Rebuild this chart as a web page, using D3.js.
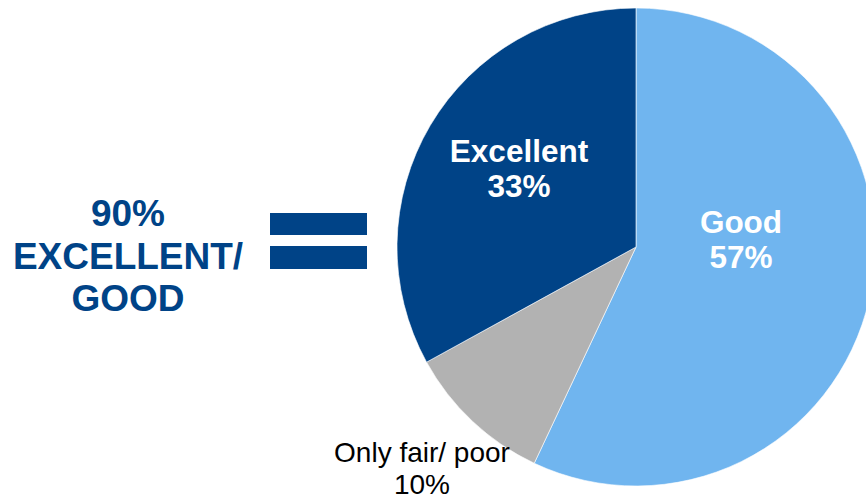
<!DOCTYPE html>
<html>
<head>
<meta charset="utf-8">
<script src="https://cdn.jsdelivr.net/npm/d3@7"></script>
<style>
  html, body { margin: 0; padding: 0; background: #fff; overflow: hidden; }
  svg { display: block; }
</style>
</head>
<body>
<svg id="chart" width="866" height="498"></svg>
<script>
// Data
const categories = ["Good", "Only fair/ poor", "Excellent"];
const values = [57, 10, 33];
const valueLabels = ["57%", "10%", "33%"];
const summaryLines = ["90%", "EXCELLENT/", "GOOD"];

const colors = ["#70B5EF", "#B2B2B2", "#004387"];
const darkBlue = "#004387";

const svg = d3.select("#chart");
const cx = 636, cy = 247, R = 239;

const pie = d3.pie().sort(null).value(d => d.value);
const data = categories.map((c, i) => ({ name: c, value: values[i], label: valueLabels[i], color: colors[i] }));
const arcs = pie(data);
const arc = d3.arc().innerRadius(0).outerRadius(R);

const g = svg.append("g").attr("transform", `translate(${cx},${cy})`);
g.selectAll("path.slice")
  .data(arcs)
  .enter().append("path")
  .attr("class", "slice")
  .attr("d", arc)
  .attr("fill", d => d.data.color)
  .attr("stroke", "#ffffff")
  .attr("stroke-width", 0.6);

const font = "'Liberation Sans', Arial, Helvetica, sans-serif";

// Inside labels, placed relative to the pie centre
function insideLabel(d, x, y) {
  const t = g.append("text")
    .attr("text-anchor", "middle")
    .attr("font-family", font)
    .attr("font-weight", "bold")
    .attr("font-size", 31.5)
    .attr("fill", "#ffffff");
  t.append("tspan").attr("x", x).attr("y", y).text(d.data.name);
  t.append("tspan").attr("x", x).attr("y", y + 34.5).text(d.data.label);
}
insideLabel(arcs[0], 105, -14);
insideLabel(arcs[2], -117, -85);

// Outside label for Only fair/ poor
const ot = svg.append("text")
  .attr("text-anchor", "middle")
  .attr("font-family", font)
  .attr("font-size", 28)
  .attr("fill", "#000000");
ot.append("tspan").attr("x", 422).attr("y", 462).text(arcs[1].data.name);
ot.append("tspan").attr("x", 422).attr("y", 494).text(arcs[1].data.label);

// Summary text on left
const st = svg.append("text")
  .attr("text-anchor", "middle")
  .attr("font-family", font)
  .attr("font-weight", "bold")
  .attr("font-size", 37)
  .attr("fill", darkBlue);
summaryLines.forEach((s, i) => {
  st.append("tspan").attr("x", 128).attr("y", 226 + i * 42.5).text(s);
});

// Equals sign
svg.append("rect").attr("x", 270).attr("y", 213).attr("width", 97).attr("height", 22).attr("fill", darkBlue);
svg.append("rect").attr("x", 270).attr("y", 246).attr("width", 97).attr("height", 23).attr("fill", darkBlue);
</script>
</body>
</html>
